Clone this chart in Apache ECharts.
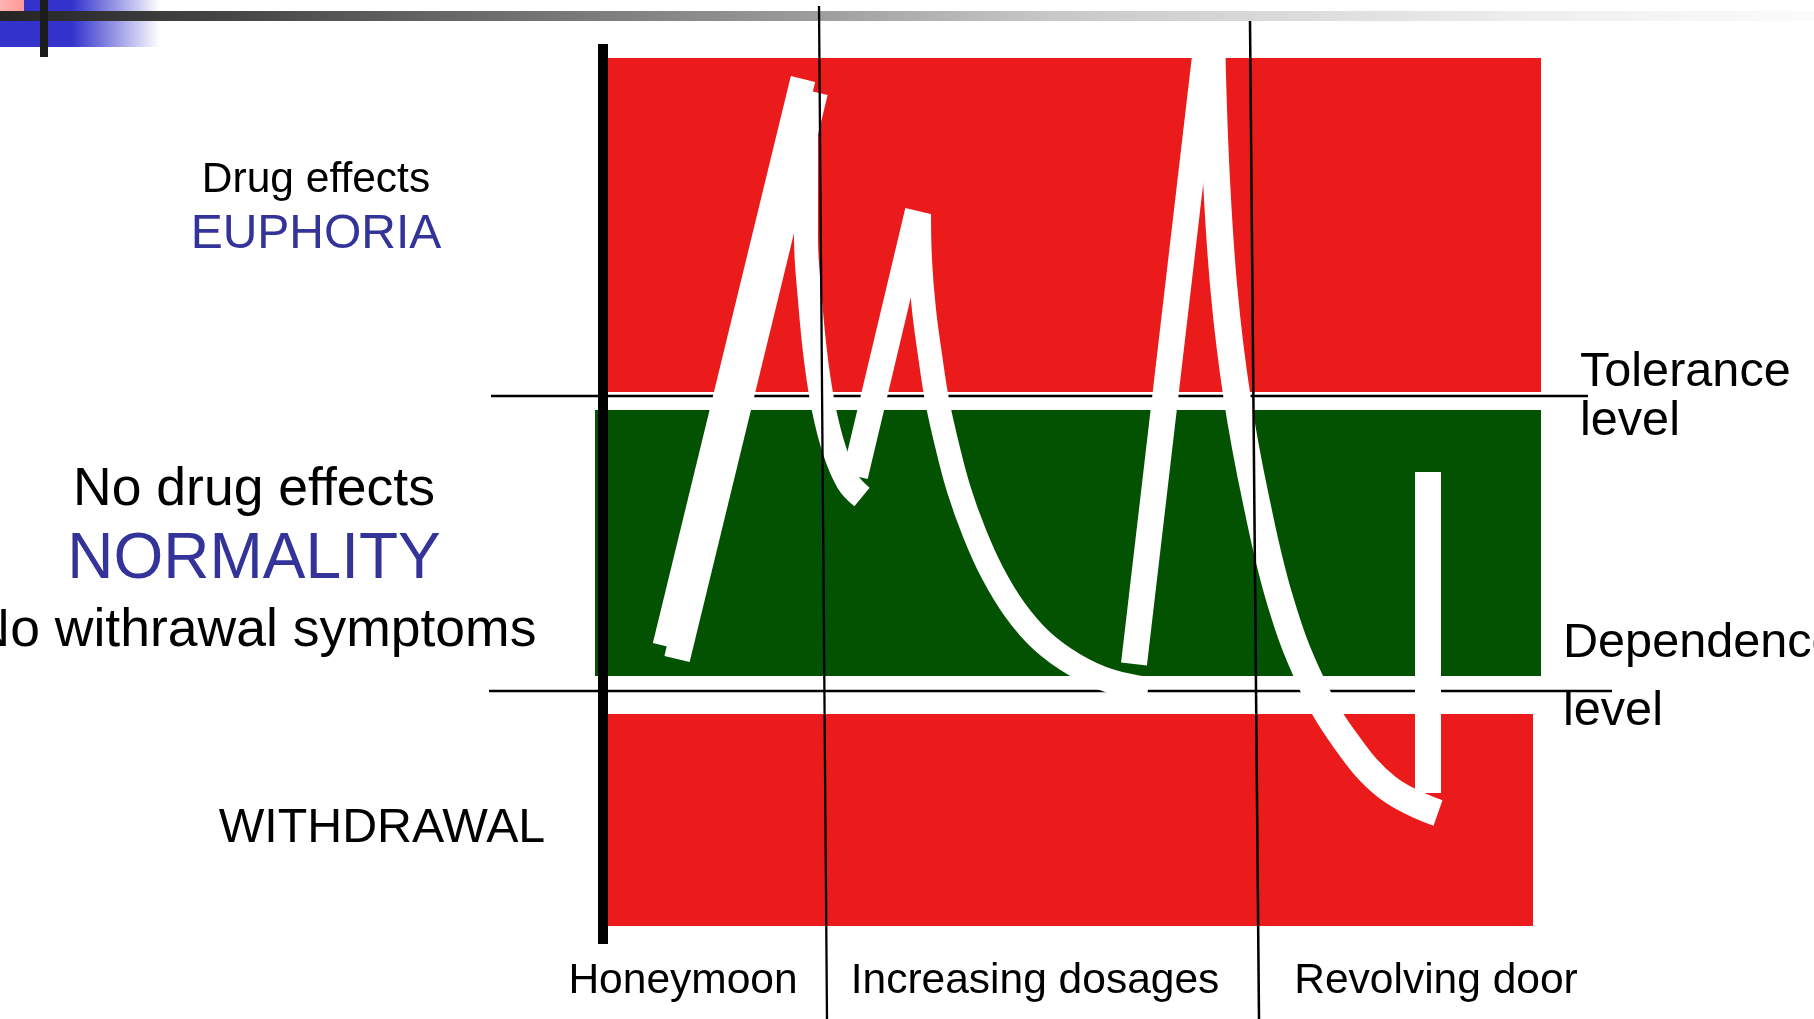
<!DOCTYPE html>
<html>
<head>
<meta charset="utf-8">
<script src="https://cdn.jsdelivr.net/npm/echarts@6/dist/echarts.min.js"></script>
<style>
  html, body { margin: 0; padding: 0; background: #fff; }
  #chart { width: 1814px; height: 1019px; }
</style>
</head>
<body>
<div id="chart"></div>
<script>
// slide units: 1 unit = 1 px of the 1814x1019 slide, y grows downwards
const bandNames = ['Euphoria', 'Normality', 'Withdrawal'];
const bandX0 = [607, 595, 607];
const bandY0 = [58, 410, 714];
const bandX1 = [1541, 1541, 1533];
const bandY1 = [392, 676, 926];

const toleranceLine = [[491, 396], [1588, 396]];
const dependenceLine = [[489, 691], [1612, 691]];
const timeLine = [[603, 44], [603, 944]];
const phaseDivider1 = [[819, 6], [827, 1019]];
const phaseDivider2 = [[1250, 21], [1259, 1019]];

// drug level path, piece by piece
const honeymoonRiseA = [[665, 646], [803, 79]];
const honeymoonRiseB = [[677, 659], [815, 92]];
const honeymoonFall = [[806, 95], [806, 160], [806, 237], [810, 300], [816, 360], [824, 410], [835, 452], [848, 482], [862, 497]];
const dosageRise = [[855, 476], [918, 211]];
const dosageFall = [[919, 214], [920, 260], [924, 310], [930, 355], [937, 400], [947, 445], [959, 490], [974, 532], [992, 572], [1015, 610], [1042, 641], [1075, 665], [1110, 681], [1148, 689]];
const doorRise = [[1134, 664], [1206, 48]];
const doorFall = [[1212, 55], [1216, 170], [1224, 290], [1237, 397], [1256, 500], [1280, 600], [1310, 680], [1345, 740], [1388, 788], [1438, 813]];
const doorDose = [[1428, 472], [1428, 793]];

const zoneLabels = ['Drug effects', 'EUPHORIA', 'No drug effects', 'NORMALITY', 'No withrawal symptoms', 'WITHDRAWAL'];
const levelLabels = ['Tolerance', 'level', 'Dependence', 'level'];
const phaseLabels = ['Honeymoon', 'Increasing dosages', 'Revolving door'];

const RED = '#ec1b1b';
const GREEN = '#025202';
const BLUE = '#333399';
const bandColors = [RED, GREEN, RED];

const chart = echarts.init(document.getElementById('chart'));

function blackLine(data, width, z) {
  return {
    type: 'line', data: data, symbol: 'none', silent: true, z: z,
    lineStyle: { color: '#000', width: width, cap: 'butt' }
  };
}
function whiteStroke(data, width, smooth) {
  return {
    type: 'line', data: data, symbol: 'none', silent: true, z: 5,
    smooth: smooth ? 0.4 : false,
    lineStyle: { color: '#fff', width: width, cap: 'butt', join: 'round' }
  };
}

const font = 'Liberation Sans, Arial, sans-serif';
function label(text, x, y, size, color, align) {
  return {
    type: 'text', x: x, y: y, z: 10,
    style: {
      text: text, fill: color || '#000', fontSize: size, fontFamily: font,
      align: align || 'center', verticalAlign: 'middle'
    }
  };
}

const option = {
  animation: false,
  grid: { left: 0, right: 0, top: 0, bottom: 0 },
  xAxis: { type: 'value', min: 0, max: 1814, show: false },
  yAxis: { type: 'value', min: 0, max: 1019, inverse: true, show: false },
  graphic: [
    // slide header decoration
    { type: 'rect', z: 0, shape: { x: 0, y: 0, width: 160, height: 47 },
      style: { fill: new echarts.graphic.LinearGradient(0, 0, 1, 0, [
        { offset: 0, color: '#3333cc' }, { offset: 0.45, color: '#3333cc' }, { offset: 1, color: '#ffffff' }]) } },
    { type: 'rect', z: 0, shape: { x: 0, y: 0, width: 24, height: 11 },
      style: { fill: new echarts.graphic.LinearGradient(0, 0, 1, 0, [
        { offset: 0, color: '#ffb3b3' }, { offset: 1, color: '#ff9999' }]) } },
    { type: 'rect', z: 0, shape: { x: 0, y: 11, width: 1814, height: 10 },
      style: { fill: new echarts.graphic.LinearGradient(0, 0, 1, 0, [
        { offset: 0, color: '#242424' }, { offset: 0.44, color: '#9a9a9a' },
        { offset: 0.58, color: '#c8c8c8' }, { offset: 0.85, color: '#efefef' }, { offset: 1, color: '#fbfbfb' }]) } },
    { type: 'rect', z: 0, shape: { x: 40, y: 0, width: 8, height: 57 }, style: { fill: '#1c1c1c' } },

    label(zoneLabels[0], 316, 180.5, 42.5),
    label(zoneLabels[1], 316, 234.5, 48, BLUE),
    label(zoneLabels[2], 254, 490.5, 53.5),
    label(zoneLabels[3], 254, 560.5, 64, BLUE),
    label(zoneLabels[4], 254, 631.5, 53.5),
    label(zoneLabels[5], 382, 828.5, 48.3),
    label(levelLabels[0], 1580, 372.5, 48.6, '#000', 'left'),
    label(levelLabels[1], 1580, 421.5, 48.6, '#000', 'left'),
    label(levelLabels[2], 1563, 643.5, 48.6, '#000', 'left'),
    label(levelLabels[3], 1563, 711.5, 48.6, '#000', 'left'),
    label(phaseLabels[0], 683, 981.5, 42.5),
    label(phaseLabels[1], 1035, 981.5, 42.5),
    label(phaseLabels[2], 1436, 981.5, 42.5)
  ],
  series: [
    {
      type: 'custom', silent: true, z: 1,
      data: bandNames.map((n, i) => [bandX0[i], bandY0[i], bandX1[i], bandY1[i], i]),
      renderItem: function (params, api) {
        const p0 = api.coord([api.value(0), api.value(1)]);
        const p1 = api.coord([api.value(2), api.value(3)]);
        return {
          type: 'rect',
          shape: { x: p0[0], y: p0[1], width: p1[0] - p0[0], height: p1[1] - p0[1] },
          style: { fill: bandColors[api.value(4)] }
        };
      }
    },
    blackLine(toleranceLine, 2.5, 2),
    blackLine(dependenceLine, 2.5, 2),
    whiteStroke(honeymoonRiseA, 25),
    whiteStroke(honeymoonRiseB, 26),
    whiteStroke(honeymoonFall, 24, true),
    whiteStroke(dosageRise, 26),
    whiteStroke(dosageFall, 24, true),
    whiteStroke(doorRise, 26),
    whiteStroke(doorFall, 27, true),
    whiteStroke(doorDose, 26),
    blackLine(timeLine, 10, 8),
    blackLine(phaseDivider1, 2.3, 8),
    blackLine(phaseDivider2, 2.5, 8)
  ]
};
chart.setOption(option);
</script>
</body>
</html>
